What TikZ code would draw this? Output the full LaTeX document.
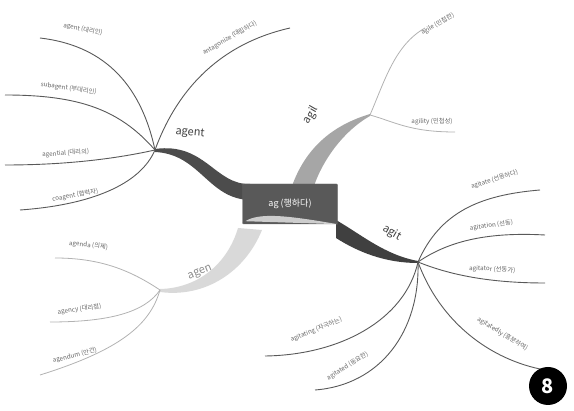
\documentclass[tikz,border=0pt]{standalone}
\usepackage{fontspec}
\setmainfont{Noto Sans CJK KR}
\usetikzlibrary{positioning}
\begin{document}
\begin{tikzpicture}[x=1pt,y=-1pt,
  leaf/.style={font=\fontsize{6.3}{7}\selectfont,text=black!60,inner sep=1pt,anchor=south},
  twig/.style={line width=0.9pt,draw=black!65},
  paletwig/.style={line width=0.8pt,draw=black!30},
  branchlabel/.style={font=\fontsize{11}{12}\selectfont,text=black!75,inner sep=0pt}]
\useasboundingbox (0,0) rectangle (574,411);

% hubs
\coordinate (hagent) at (155,150);
\coordinate (hagil) at (370,115);
\coordinate (hagit) at (418,262);
\coordinate (hagen) at (160,290);

% thick branches
\fill[black!70] (155,149) .. controls (205,142) and (215,185) .. (250,184)
  -- (250,200) .. controls (208,199) and (200,154) .. (155,152) -- cycle;
\fill[black!35] (292,186) .. controls (305,150) and (330,126) .. (370,114)
  -- (370,116) .. controls (342,132) and (322,162) .. (314,186) -- cycle;
\fill[black!75] (336,220) .. controls (362,235) and (385,255) .. (418,261)
  -- (418,263) .. controls (385,263) and (358,252) .. (336,238) -- cycle;
\fill[black!15] (238,228) .. controls (228,262) and (200,288) .. (160,289)
  -- (160,292) .. controls (205,298) and (245,272) .. (262,230) -- cycle;

% centre
\node[draw=black!60,fill=black!65,rounded corners=1pt,minimum width=95pt,minimum height=40pt,
  font=\fontsize{9}{10}\selectfont,text=white] (root) at (290,204) {ag (행하다)};
\fill[white,opacity=0.7] (root.south west) ++(3,-3) .. controls (260,212) and (290,216) .. (root.south east) -- cycle;

\node[branchlabel,rotate=-5] (lagent) at (190,133) {agent};
\node[branchlabel,rotate=60] (lagil) at (311,115) {agil};
\node[branchlabel,rotate=-30] (lagit) at (392,233) {agit};
\node[branchlabel,rotate=22,text=black!45] (lagen) at (200,273) {agen};

% agent leaves
\coordinate (e1) at (40,38);
\coordinate (e2) at (5,95);
\coordinate (e3) at (5,165);
\coordinate (e4) at (20,210);
\coordinate (e5) at (290,28);
\draw[twig] (hagent) .. controls (140,80) and (100,45) .. (e1);
\draw[twig] (hagent) .. controls (120,110) and (80,95) .. (e2);
\draw[twig] (hagent) .. controls (110,160) and (60,165) .. (e3);
\draw[twig] (hagent) .. controls (140,185) and (90,205) .. (e4);
\draw[twig] (hagent) .. controls (175,95) and (215,45) .. (e5);
\node[leaf,rotate=-12] (agent) at (82,34) {agent (대리인)};
\node[leaf,rotate=-8] (subagent) at (68,93) {subagent (부대리인)};
\node[leaf,rotate=4] (agential) at (66,158) {agential (대리의)};
\node[leaf,rotate=10] (coagent) at (76,200) {coagent (협력자)};
\node[leaf,rotate=30] (antagonize) at (232,42) {antagonize (대립하다)};

% agil leaves
\coordinate (g1) at (425,28);
\coordinate (g2) at (455,132);
\draw[paletwig] (hagil) .. controls (385,80) and (395,45) .. (g1);
\draw[paletwig] (hagil) .. controls (395,122) and (410,132) .. (g2);
\node[leaf,rotate=30] (agile) at (440,28) {agile (민첩한)};
\node[leaf] (agility) at (432,126) {agility (민첩성)};

% agit leaves
\coordinate (t1) at (540,190);
\coordinate (t2) at (545,235);
\coordinate (t3) at (545,283);
\coordinate (t4) at (545,370);
\coordinate (t5) at (265,356);
\coordinate (t6) at (315,390);
\draw[twig] (hagit) .. controls (440,212) and (480,195) .. (t1);
\draw[twig] (hagit) .. controls (450,240) and (490,232) .. (t2);
\draw[twig] (hagit) .. controls (450,275) and (490,283) .. (t3);
\draw[twig] (hagit) .. controls (440,322) and (490,360) .. (t4);
\draw[twig] (hagit) .. controls (405,320) and (340,355) .. (t5);
\draw[twig] (hagit) .. controls (420,332) and (380,385) .. (t6);
\node[leaf,rotate=18] (agitate) at (496,184) {agitate (선동하다)};
\node[leaf,rotate=8] (agitation) at (492,230) {agitation (선동)};
\node[leaf,rotate=-3] (agitator) at (492,274) {agitator (선동가)};
\node[leaf,rotate=-32] (agitatedly) at (500,338) {agitatedly (흥분하여)};
\node[leaf,rotate=22] (agitating) at (318,334) {agitating (자극하는)};
\node[leaf,rotate=32] (agitated) at (350,370) {agitated (동요한)};

% agen leaves
\coordinate (n1) at (55,258);
\coordinate (n2) at (50,322);
\coordinate (n3) at (40,375);
\draw[paletwig] (hagen) .. controls (130,270) and (100,258) .. (n1);
\draw[paletwig] (hagen) .. controls (145,312) and (110,322) .. (n2);
\draw[paletwig] (hagen) .. controls (150,325) and (120,350) .. (n3);
\node[leaf,rotate=-6] (agenda) at (88,250) {agenda (의제)};
\node[leaf,rotate=8] (agency) at (80,314) {agency (대리점)};
\node[leaf,rotate=14] (agendum) at (76,360) {agendum (안건)};

% badge
\node[circle,fill=black,minimum size=38pt,inner sep=0pt,text=white,
  font=\fontsize{20}{22}\bfseries\selectfont] (badge) at (548,386) {8};
\end{tikzpicture}
\end{document}
